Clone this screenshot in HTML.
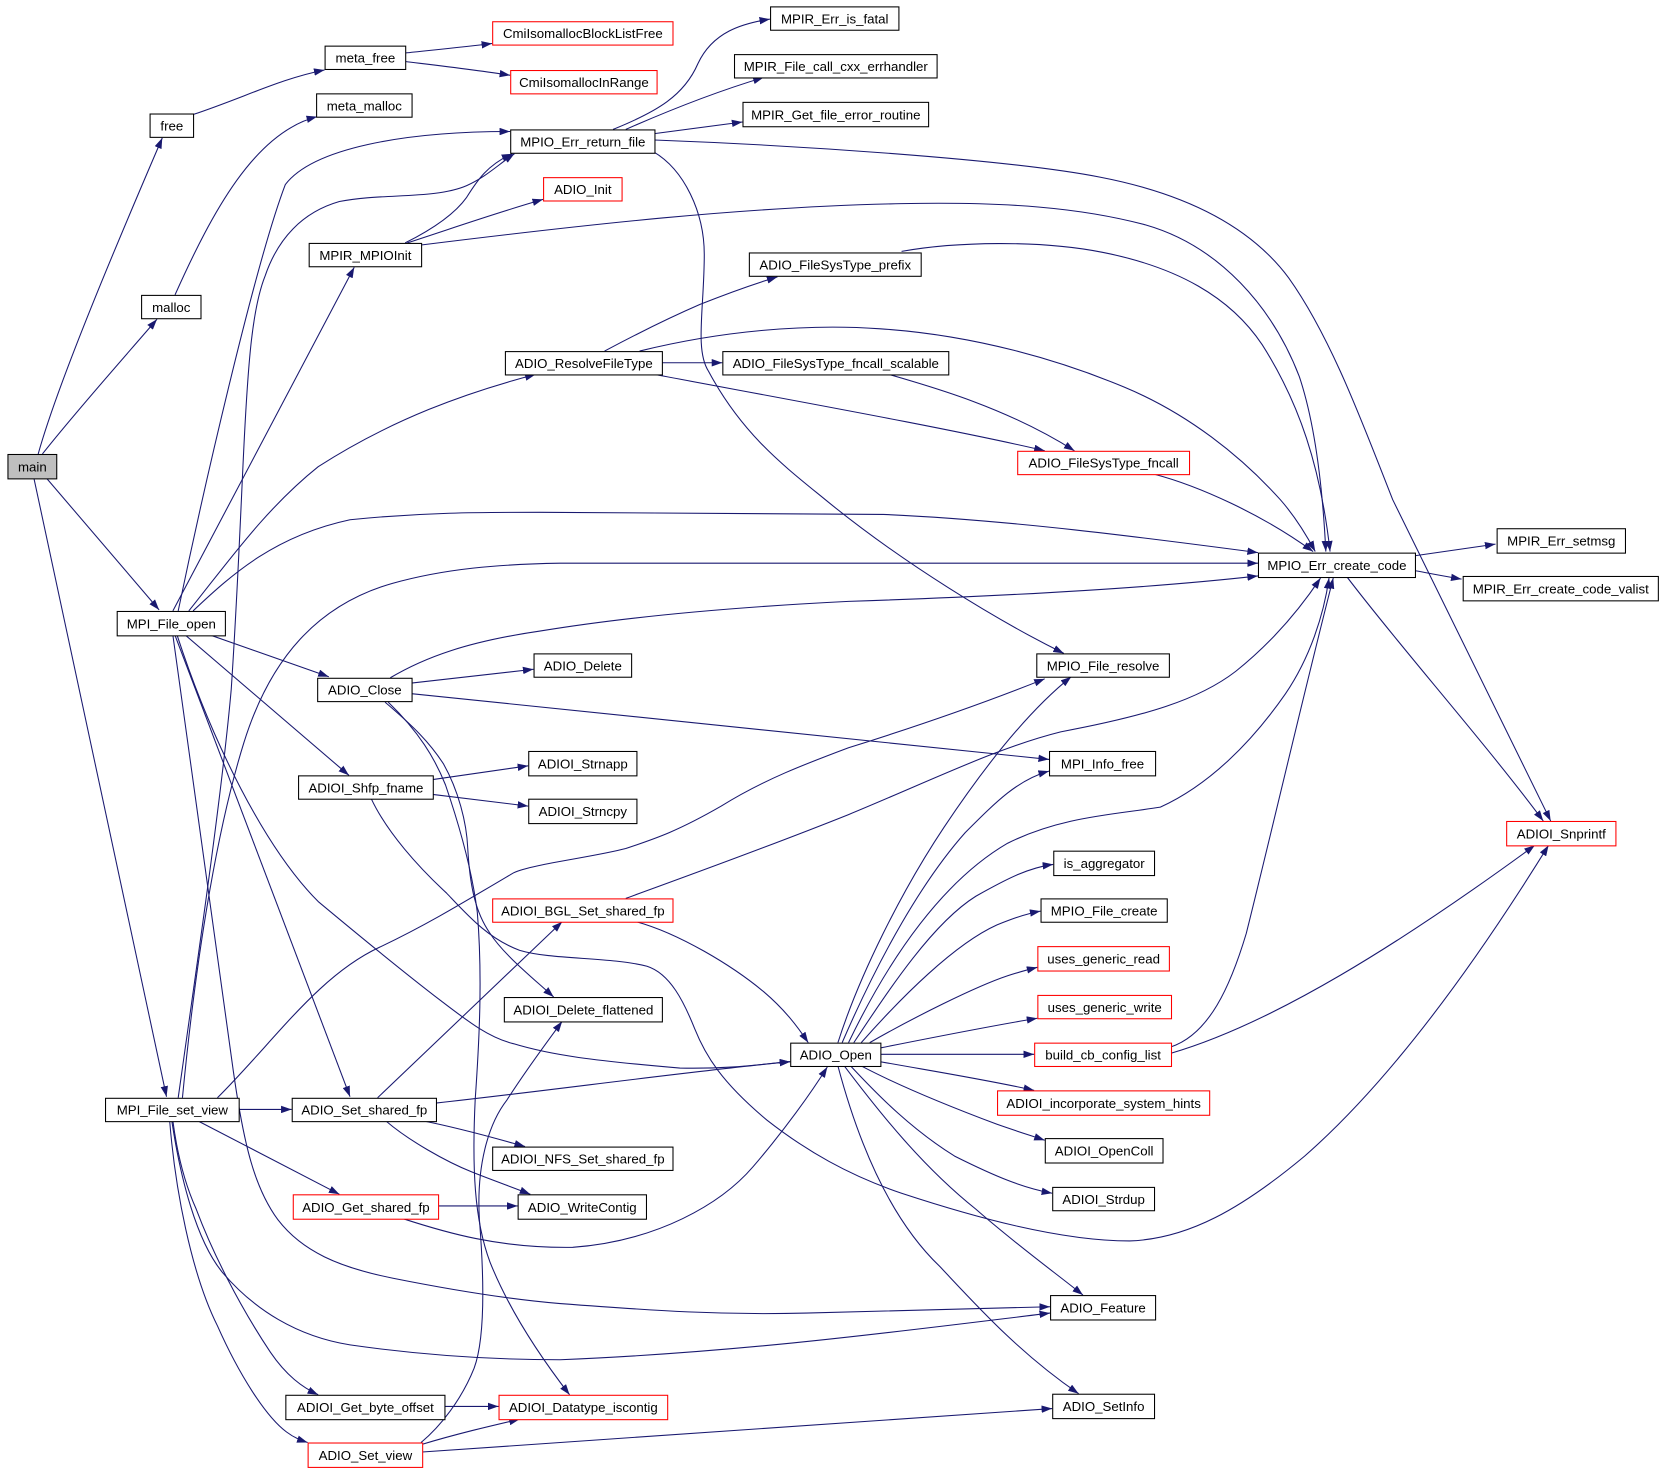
<!DOCTYPE html>
<html>
<head>
<meta charset="utf-8">
<style>
html,body{margin:0;padding:0;background:#fff;}
svg{display:block;}
text{font-family:"Liberation Sans",Arial,sans-serif;font-size:12.5px;fill:#000;}
.e{fill:none;stroke:#191970;stroke-width:1;}
.n{fill:#fff;stroke:#000;stroke-width:1;}
.r{fill:#fff;stroke:#ff0000;stroke-width:1;}
</style>
</head>
<body>
<svg width="1661" height="1469" viewBox="0 0 1566 1385" preserveAspectRatio="none" xmlns="http://www.w3.org/2000/svg">
<defs>
<marker id="a" markerWidth="10" markerHeight="7" refX="10" refY="3.5" orient="auto" markerUnits="userSpaceOnUse">
<path d="M0,0 L10,3.5 L0,7 z" fill="#191970"/>
</marker>
</defs>
<rect x="0" y="0" width="1566" height="1385" fill="#fff"/>
<g marker-end="url(#a)">
<path class="e" d="M36,428 C55,360 110,230 153,130"/>
<path class="e" d="M40,428 C70,390 110,345 148,301"/>
<path class="e" d="M44,451 L150,575"/>
<path class="e" d="M32,451 L157,1034"/>
<path class="e" d="M182,108 C230,92 265,74 306,66"/>
<path class="e" d="M165,278 C200,200 240,125 299,110"/>
<path class="e" d="M382,50 C410,47 440,44 464,41"/>
<path class="e" d="M382,58 C415,62 450,66 481,71"/>
<path class="e" d="M578,122 C620,105 645,90 658,60 C672,30 700,22 726,18"/>
<path class="e" d="M590,122 C640,100 680,85 720,73"/>
<path class="e" d="M617,126 L700,115"/>
<path class="e" d="M617,132 C750,137 950,150 1037,167 C1120,183 1180,215 1215,262 C1255,318 1285,400 1313,471 L1462,774"/>
<path class="e" d="M616,143 C645,160 664,200 664,240 C664,290 655,330 668,350 C700,410 740,440 778,471 C850,530 940,585 1003,616"/>
<path class="e" d="M382,229 C410,215 430,200 440,186 C450,170 460,155 483,145"/>
<path class="e" d="M384,229 C430,214 470,200 512,188"/>
<path class="e" d="M397,231 C550,212 700,195 850,192 C950,190 1020,196 1080,212 C1150,232 1200,290 1225,355 C1240,400 1247,460 1250,520"/>
<path class="e" d="M850,237 C900,228 980,226 1040,238 C1110,252 1160,280 1190,325 C1225,380 1245,440 1254,520"/>
<path class="e" d="M603,331 C680,312 760,305 830,310 C920,316 1000,340 1060,365 C1120,390 1170,430 1207,471 C1222,488 1232,505 1240,520"/>
<path class="e" d="M570,331 C600,315 630,300 660,287 C690,275 710,268 733,261"/>
<path class="e" d="M624,342 L681,342"/>
<path class="e" d="M617,353 C750,378 900,405 985,425"/>
<path class="e" d="M838,353 C880,365 950,385 1013,425"/>
<path class="e" d="M1088,447 C1130,458 1190,485 1238,520"/>
<path class="e" d="M1334,524 L1410,513"/>
<path class="e" d="M1334,538 C1350,541 1360,543 1378,546"/>
<path class="e" d="M1270,544 C1320,610 1400,700 1455,774"/>
<path class="e" d="M168,576 C190,470 240,250 269,174 C295,140 380,124 481,124"/>
<path class="e" d="M163,576 L334,252"/>
<path class="e" d="M178,576 C215,530 250,480 300,440 C370,395 440,370 505,353"/>
<path class="e" d="M182,576 C220,540 260,505 330,490 C400,483 450,483 509,483 C650,483 780,484 833,485 C950,490 1080,507 1186,521"/>
<path class="e" d="M199,599 L310,638"/>
<path class="e" d="M175,599 L329,731"/>
<path class="e" d="M165,599 L330,1034"/>
<path class="e" d="M167,599 C200,700 250,800 300,850 C330,875 385,920 415,943 C440,962 460,978 484,984 C520,995 560,1000 641,1007 C690,1008 720,1003 745,1001"/>
<path class="e" d="M163,599 C185,760 205,900 220,1010 C230,1080 240,1120 262,1150 C285,1180 320,1195 370,1205 C430,1217 480,1225 528,1229 C620,1236 680,1240 760,1238 C850,1236 930,1233 990,1232"/>
<path class="e" d="M168,1035 C190,880 210,740 218,650 C224,560 227,480 230,420 C234,340 238,290 250,260 C262,225 285,200 320,190 C360,182 410,188 440,175 C458,167 470,155 485,145"/>
<path class="e" d="M172,1035 C185,900 205,780 230,700 C255,620 300,570 370,550 C420,536 470,532 528,531 L1186,531"/>
<path class="e" d="M205,1035 C260,980 300,920 358,893 C400,873 430,855 484,823 C500,815 560,808 590,800 C620,790 640,783 680,760 C720,735 760,720 800,705 C880,680 940,658 985,640"/>
<path class="e" d="M225,1046 L275,1046"/>
<path class="e" d="M187,1057 L320,1126"/>
<path class="e" d="M163,1057 C168,1095 176,1120 185,1140 C200,1180 225,1230 255,1275 C270,1297 285,1308 300,1315"/>
<path class="e" d="M160,1057 C165,1120 180,1200 205,1250 C225,1295 250,1335 270,1350 C278,1356 284,1358 290,1360"/>
<path class="e" d="M162,1057 C170,1110 185,1170 210,1200 C240,1235 280,1260 330,1268 C400,1278 470,1282 528,1282 C700,1275 850,1255 990,1238"/>
<path class="e" d="M388,644 L503,631"/>
<path class="e" d="M388,654 C600,675 800,695 989,716"/>
<path class="e" d="M368,639 C400,620 440,605 509,595 C600,580 700,572 800,567 C950,562 1080,555 1186,543"/>
<path class="e" d="M363,662 C390,685 405,700 418,720 C432,745 440,775 441,800 C443,835 448,860 462,880 C475,900 500,920 522,940"/>
<path class="e" d="M366,662 C395,690 410,715 420,740 C432,775 445,820 450,860 C455,920 452,980 448,1037 C445,1100 447,1150 462,1190 C480,1235 510,1280 537,1315"/>
<path class="e" d="M408,735 L498,722"/>
<path class="e" d="M408,749 L498,760"/>
<path class="e" d="M350,753 C365,785 395,818 421,842 C440,862 460,885 490,896 C520,905 575,902 610,911 C632,918 645,945 655,970 C665,995 680,1020 723,1056 C760,1085 800,1108 850,1125 C920,1148 1000,1170 1065,1170 C1120,1168 1170,1140 1230,1090 C1310,1020 1390,910 1460,797"/>
<path class="e" d="M590,847 C650,825 720,800 800,768 C880,735 940,705 1000,690 C1080,675 1130,660 1165,633 C1200,605 1225,575 1245,545"/>
<path class="e" d="M600,869 C640,880 690,910 720,935 C740,952 752,968 762,983"/>
<path class="e" d="M356,1035 L530,869"/>
<path class="e" d="M411,1040 C520,1028 650,1010 745,1001"/>
<path class="e" d="M400,1057 C430,1063 460,1071 495,1081"/>
<path class="e" d="M364,1057 C385,1075 420,1095 445,1105 C465,1113 485,1120 500,1126"/>
<path class="e" d="M413,1137 L488,1137"/>
<path class="e" d="M380,1149 C420,1162 470,1177 540,1176 C620,1170 680,1135 710,1100 C740,1065 765,1030 780,1006"/>
<path class="e" d="M419,1326 L470,1326"/>
<path class="e" d="M397,1362 C430,1352 460,1345 490,1338"/>
<path class="e" d="M398,1369 C600,1355 800,1340 992,1328"/>
<path class="e" d="M397,1360 C415,1345 435,1320 447,1290 C458,1260 456,1200 452,1150 C449,1100 460,1060 478,1037 C492,1015 510,990 530,963"/>
<path class="e" d="M790,983 C810,920 850,840 890,780 C930,720 970,670 1010,638"/>
<path class="e" d="M794,983 C830,900 870,830 910,785 C940,755 960,735 989,727"/>
<path class="e" d="M800,983 C840,900 890,830 950,795 C1000,770 1050,768 1094,761 C1140,740 1180,700 1212,654 C1235,620 1248,580 1253,545"/>
<path class="e" d="M1104,987 C1140,975 1160,930 1175,880 C1200,780 1230,650 1257,545"/>
<path class="e" d="M1104,993 C1200,965 1320,890 1447,797"/>
<path class="e" d="M805,983 C840,930 880,870 920,845 C950,828 970,818 993,815"/>
<path class="e" d="M812,983 C850,940 900,890 940,872 C960,864 970,861 981,859"/>
<path class="e" d="M820,983 C860,960 920,930 950,920 C962,916 970,914 978,912"/>
<path class="e" d="M830,988 C880,978 930,968 978,960"/>
<path class="e" d="M830,994 L975,994"/>
<path class="e" d="M830,1001 C880,1010 930,1018 975,1028"/>
<path class="e" d="M812,1005 C850,1025 900,1045 940,1060 C960,1067 970,1070 985,1075"/>
<path class="e" d="M802,1005 C830,1035 860,1065 900,1090 C940,1110 965,1120 992,1125"/>
<path class="e" d="M796,1005 C830,1050 870,1100 920,1140 C960,1175 995,1200 1021,1221"/>
<path class="e" d="M790,1005 C810,1080 840,1150 886,1194 C920,1230 960,1275 1017,1314"/>
</g>

<g text-anchor="middle">
<rect x="7.5" y="428.5" width="46" height="23" fill="#bfbfbf" stroke="#000"/><text x="30.5" y="444.5">main</text>
<rect class="n" x="141.5" y="107.5" width="41" height="22"/><text x="162" y="123">free</text>
<rect class="n" x="133.5" y="278.5" width="56" height="22"/><text x="161.5" y="294">malloc</text>
<rect class="n" x="306.5" y="43.5" width="76" height="22"/><text x="344.5" y="59">meta_free</text>
<rect class="n" x="298.5" y="88.5" width="90" height="22"/><text x="343.5" y="104">meta_malloc</text>
<rect class="r" x="464.5" y="20.5" width="170" height="22"/><text x="549.5" y="36">CmiIsomallocBlockListFree</text>
<rect class="r" x="481.5" y="66.5" width="138" height="22"/><text x="550.5" y="82">CmiIsomallocInRange</text>
<rect class="n" x="726.5" y="6.5" width="121" height="22"/><text x="787" y="22">MPIR_Err_is_fatal</text>
<rect class="n" x="692.5" y="51.5" width="191" height="22"/><text x="788" y="67">MPIR_File_call_cxx_errhandler</text>
<rect class="n" x="700.5" y="96.5" width="175" height="23"/><text x="788" y="112.5">MPIR_Get_file_error_routine</text>
<rect class="n" x="481.5" y="122.5" width="136" height="22"/><text x="549.5" y="138">MPIO_Err_return_file</text>
<rect class="r" x="512.5" y="167.5" width="74" height="22"/><text x="549.5" y="183">ADIO_Init</text>
<rect class="n" x="291.5" y="229.5" width="106" height="22"/><text x="344.5" y="245">MPIR_MPIOInit</text>
<rect class="n" x="706.5" y="238.5" width="162" height="22"/><text x="787.5" y="254">ADIO_FileSysType_prefix</text>
<rect class="n" x="476.5" y="331.5" width="148" height="22"/><text x="550.5" y="347">ADIO_ResolveFileType</text>
<rect class="n" x="681.5" y="331.5" width="213" height="22"/><text x="788" y="347">ADIO_FileSysType_fncall_scalable</text>
<rect class="r" x="959.5" y="425.5" width="162" height="22"/><text x="1040.5" y="441">ADIO_FileSysType_fncall</text>
<rect class="n" x="1186.5" y="521.5" width="148" height="23"/><text x="1260.5" y="537.5">MPIO_Err_create_code</text>
<rect class="n" x="1411.5" y="498.5" width="121" height="23"/><text x="1472" y="514.5">MPIR_Err_setmsg</text>
<rect class="n" x="1379.5" y="543.5" width="184" height="23"/><text x="1471.5" y="559.5">MPIR_Err_create_code_valist</text>
<rect class="n" x="110.5" y="576.5" width="102" height="23"/><text x="161.5" y="592.5">MPI_File_open</text>
<rect class="n" x="299.5" y="639.5" width="89" height="22"/><text x="344" y="655">ADIO_Close</text>
<rect class="n" x="503.5" y="616.5" width="92" height="22"/><text x="549.5" y="632">ADIO_Delete</text>
<rect class="n" x="977.5" y="616.5" width="125" height="22"/><text x="1040" y="632">MPIO_File_resolve</text>
<rect class="n" x="989.5" y="708.5" width="100" height="23"/><text x="1039.5" y="724.5">MPI_Info_free</text>
<rect class="n" x="281.5" y="731.5" width="127" height="22"/><text x="345" y="747">ADIOI_Shfp_fname</text>
<rect class="n" x="498.5" y="708.5" width="102" height="23"/><text x="549.5" y="724.5">ADIOI_Strnapp</text>
<rect class="n" x="498.5" y="753.5" width="102" height="23"/><text x="549.5" y="769.5">ADIOI_Strncpy</text>
<rect class="r" x="1420.5" y="774.5" width="103" height="23"/><text x="1472" y="790.5">ADIOI_Snprintf</text>
<rect class="n" x="993.5" y="802.5" width="95" height="23"/><text x="1041" y="818.5">is_aggregator</text>
<rect class="n" x="981.5" y="847.5" width="119" height="22"/><text x="1041" y="863">MPIO_File_create</text>
<rect class="r" x="464.5" y="847.5" width="170" height="22"/><text x="549.5" y="863">ADIOI_BGL_Set_shared_fp</text>
<rect class="r" x="978.5" y="892.5" width="124" height="23"/><text x="1040.5" y="908.5">uses_generic_read</text>
<rect class="r" x="978.5" y="938.5" width="126" height="22"/><text x="1041.5" y="954">uses_generic_write</text>
<rect class="n" x="475.5" y="940.5" width="149" height="23"/><text x="550" y="956.5">ADIOI_Delete_flattened</text>
<rect class="n" x="745.5" y="983.5" width="85" height="22"/><text x="788" y="999">ADIO_Open</text>
<rect class="r" x="975.5" y="983.5" width="129" height="22"/><text x="1040" y="999">build_cb_config_list</text>
<rect class="n" x="99.5" y="1035.5" width="126" height="22"/><text x="162.5" y="1051">MPI_File_set_view</text>
<rect class="n" x="275.5" y="1035.5" width="136" height="22"/><text x="343.5" y="1051">ADIO_Set_shared_fp</text>
<rect class="r" x="940.5" y="1028.5" width="200" height="23"/><text x="1040.5" y="1044.5">ADIOI_incorporate_system_hints</text>
<rect class="n" x="464.5" y="1081.5" width="170" height="22"/><text x="549.5" y="1097">ADIOI_NFS_Set_shared_fp</text>
<rect class="n" x="985.5" y="1073.5" width="111" height="23"/><text x="1041" y="1089.5">ADIOI_OpenColl</text>
<rect class="r" x="276.5" y="1126.5" width="137" height="23"/><text x="345" y="1142.5">ADIO_Get_shared_fp</text>
<rect class="n" x="488.5" y="1126.5" width="121" height="23"/><text x="549" y="1142.5">ADIO_WriteContig</text>
<rect class="n" x="992.5" y="1119.5" width="96" height="22"/><text x="1040.5" y="1135">ADIOI_Strdup</text>
<rect class="n" x="990.5" y="1221.5" width="99" height="23"/><text x="1040" y="1237.5">ADIO_Feature</text>
<rect class="n" x="269.5" y="1315.5" width="150" height="23"/><text x="344.5" y="1331.5">ADIOI_Get_byte_offset</text>
<rect class="r" x="470.5" y="1315.5" width="159" height="23"/><text x="550" y="1331.5">ADIOI_Datatype_iscontig</text>
<rect class="n" x="992.5" y="1314.5" width="96" height="23"/><text x="1040.5" y="1330.5">ADIO_SetInfo</text>
<rect class="r" x="290.5" y="1360.5" width="108" height="23"/><text x="344.5" y="1376.5">ADIO_Set_view</text>
</g>
</svg>
</body>
</html>
